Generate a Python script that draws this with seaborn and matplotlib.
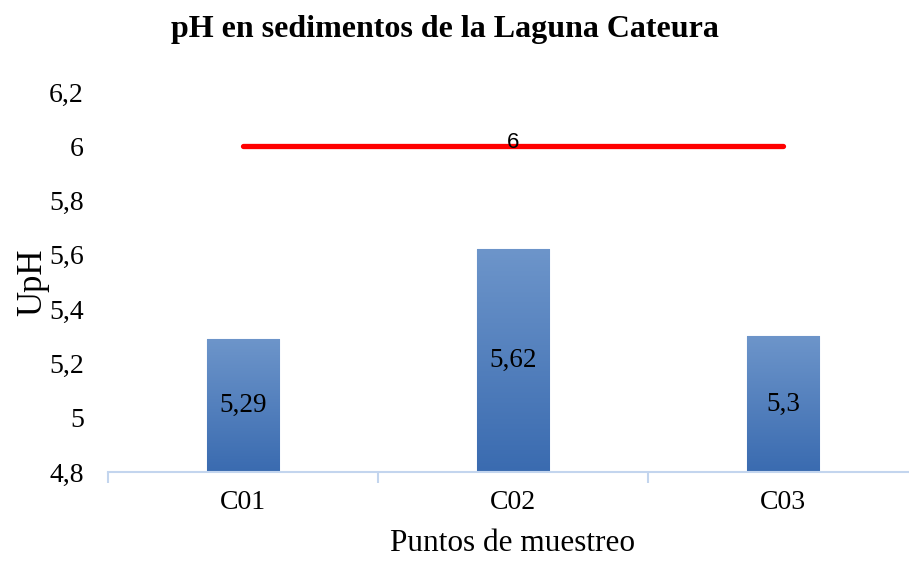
import numpy as np
import matplotlib
matplotlib.use("Agg")
import matplotlib.pyplot as plt
import seaborn as sns
import pandas as pd
from matplotlib.ticker import FixedLocator, FuncFormatter
from matplotlib.colors import LinearSegmentedColormap
from matplotlib.font_manager import FontProperties

categories = ["C01", "C02", "C03"]
values = [5.29, 5.62, 5.30]
limit_value = 6
y_ticks = [4.8, 5.0, 5.2, 5.4, 5.6, 5.8, 6.0, 6.2]

sns.set_theme(style="white")
plt.rcParams['font.family'] = ['Liberation Serif', 'DejaVu Serif']
plt.rcParams['text.color'] = 'black'
plt.rcParams['axes.labelcolor'] = 'black'
plt.rcParams['xtick.color'] = 'black'
plt.rcParams['ytick.color'] = 'black'

df = pd.DataFrame({"punto": categories, "ph": values})

fig = plt.figure(figsize=(9.09, 5.63), dpi=100)
ax = fig.add_axes([108/909, 1-472/563, 810/909, 380/563])

sns.barplot(data=df, x="punto", y="ph", ax=ax, width=0.27, color="#4f7fbf",
            edgecolor="#8fb0dc", linewidth=0.8)
ax.set_ylim(4.8, 6.2)
ax.set_xlim(-0.5, 2.5)

# gradient fill in bars
grad = np.linspace(0, 1, 256).reshape(-1, 1)
cmap = LinearSegmentedColormap.from_list("g", ["#3a6bb0", "#6d95ca"])
for p in ax.patches:
    x0, y0 = p.get_x(), p.get_y()
    w, h = p.get_width(), p.get_height()
    im = ax.imshow(grad, extent=[x0, x0 + w, 4.8, y0 + h], origin="lower",
                   cmap=cmap, aspect="auto", zorder=p.get_zorder() + 0.1)
    im.set_clip_path(p)
ax.set_xlim(-0.5, 2.5)
ax.set_ylim(4.8, 6.2)

# labels in bars
for i, v in enumerate(values):
    ax.text(i, (4.8 + v) / 2, f"{v:g}".replace(".", ","), ha="center", va="center",
            fontsize=19.5, color="black", zorder=5)

# limit line
ax.plot([0, len(categories) - 1], [limit_value, limit_value], color="#ff0000",
        lw=3.8, solid_capstyle="round", zorder=6)
sans = FontProperties(family="Liberation Sans", size=16)
ax.text(1, limit_value - 0.005, f"{limit_value}", ha="center", va="baseline",
        fontproperties=sans, color="black", zorder=7)

ax.yaxis.set_major_locator(FixedLocator(y_ticks))
ax.yaxis.set_major_formatter(FuncFormatter(lambda v, pos: f"{v:g}".replace(".", ",")))

for s in ["left", "right", "top"]:
    ax.spines[s].set_visible(False)
ax.spines["bottom"].set_color("#c3d5ee")
ax.spines["bottom"].set_linewidth(1.5)

ax.set_xticks([-0.5, 0.5, 1.5, 2.5], minor=True)
ax.tick_params(axis="x", which="minor", length=8, width=1.5, color="#c3d5ee", direction="out", bottom=True)
ax.tick_params(axis="x", which="major", length=0, labelsize=20, pad=13)
ax.tick_params(axis="y", length=0, labelsize=20, pad=17.5)

ax.set_xlabel("Puntos de muestreo", fontsize=22.5, labelpad=10)
ax.set_ylabel("UpH", fontsize=25, labelpad=0)
fig.text(445/909, 1-30/563, "pH en sedimentos de la Laguna Cateura", ha="center", va="center",
         fontsize=23, fontweight="bold")

fig.savefig("out.png", dpi=100)
